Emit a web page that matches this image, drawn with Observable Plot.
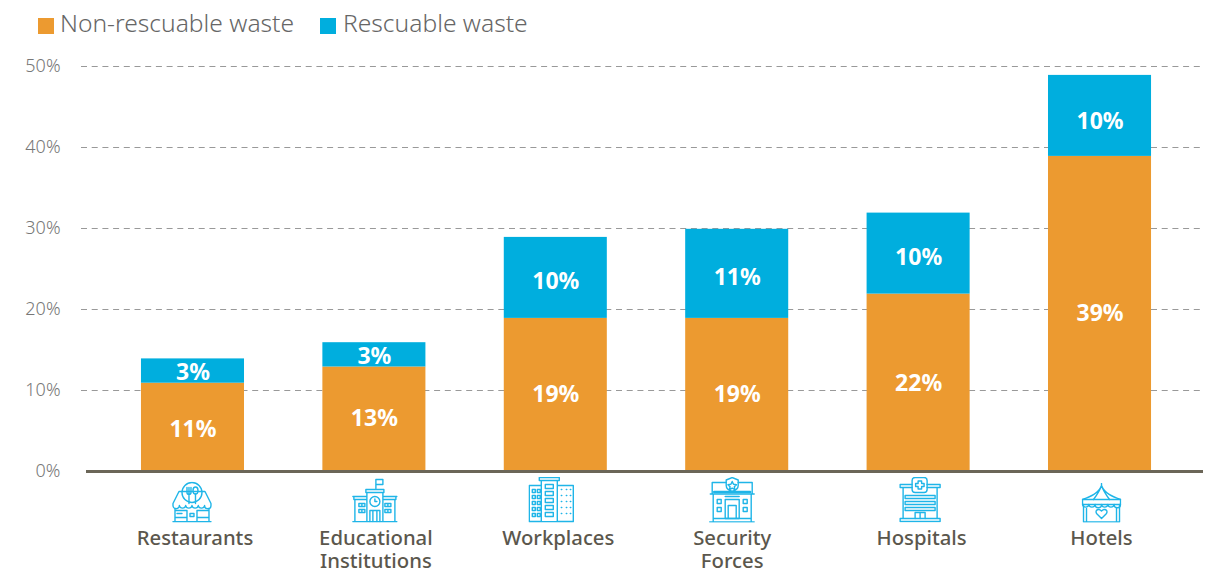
<!DOCTYPE html>
<html><head><meta charset="utf-8">
<script src="https://cdn.jsdelivr.net/npm/d3@7"></script>
<script src="https://cdn.jsdelivr.net/npm/@observablehq/plot@0.6"></script>
<style>
html,body{margin:0;padding:0;background:#fff;overflow:hidden}
#legend{height:42px;position:relative;font-family:"Noto Sans";font-weight:300;font-size:24.6px;color:#666}
#legend span{position:absolute;top:5px;line-height:36px;white-space:nowrap}
#legend i{position:absolute;top:18px;width:16px;height:16px}
</style></head><body>
<div id="legend"></div>
<div id="chart"></div>
<script>
const categories = ["Restaurants","Educational Institutions","Workplaces","Security Forces","Hospitals","Hotels"];
const nonRescuable = [11,13,19,19,22,39];
const rescuable = [3,3,10,11,10,10];
const seriesNames = ["Non-rescuable waste","Rescuable waste"];
const seriesColors = ["#ec9a30","#00aede"];
const yTicks = [0,10,20,30,40,50];
const labelLines = {"Educational Institutions":"Educational\nInstitutions","Security Forces":"Security\nForces"};
const labelShift = [2,1.5,2.5,-5,3,1.5];
const iconShift = [-1,0.5,-4.5,-5,1.5,1.5];
const iconW = [40,46,46,46,42,40];
const iconH = [41,45,46,46,46,40];
const nudgeLow = [3,0,0,0,1,0];
const nudgeHigh = [2.5,3,5,5,5,7];

const S = 'fill="none" stroke="#1fb5e8" stroke-width="1.4" stroke-linejoin="round" stroke-linecap="round"';
const wrap = (w,h,b)=>`<svg xmlns="http://www.w3.org/2000/svg" width="${w}" height="${h}" viewBox="0 0 ${w} ${h}"><g ${S}>${b}</g></svg>`;
const icons = [
 wrap(40,41,`<circle cx="20" cy="11" r="10"/><path d="M15 6v5q0 2 2 2t2-2V6M17 6v16"/><ellipse cx="23.500" cy="9" rx="2.500" ry="3.500"/><path d="M23.500 12.500V22"/><path d="M7 10H33L39 22V24a3.200 3.200 0 0 1-6.400 0 3.200 3.200 0 0 1-6.300 0 3.200 3.200 0 0 1-6.300 0 3.200 3.200 0 0 1-6.300 0 3.200 3.200 0 0 1-6.300 0 3.200 3.200 0 0 1-6.400 0V22Z"/><path d="M3 27V40M37 27V40M1 40.300H39M3 36H15M25 36H37M3 29H15M25 29H37M15 29V40M25 29V40"/><path d="M5 32h5M18 32h4v3h-4z"/>`),
 wrap(46,45,`<path d="M24 11V2H31V7H24"/><path d="M14 15H32V12H14ZM15 15V44M31 15V44M1 19H15M31 19H45M2 19V22H15M44 19V22H31M3 22V44M43 22V44M1 44.300H45"/><circle cx="23" cy="24" r="5"/><path d="M23 21.500V24H25"/><path d="M18 44V33H28V44M21 33V44M25 33V44M7 26h6v3H7zM7 32h6v3H7zM33 26h6v3h-6zM33 32h6v3h-6zM10 26v3M10 32v3M36 26v3M36 32v3"/>`),
 wrap(46,46,`<path d="M11 1H31V4H11ZM13 4V45M29 4V45M1 9H13V45H1ZM29 9H45V45H29ZM1 45.300H45"/><path d="M4 13h3v3H4zM9 13h3v3H9zM4 19h3v3H4zM9 19h3v3H9zM4 25h3v3H4zM9 25h3v3H9zM4 31h3v3H4zM9 31h3v3H9zM4 37h3v3H4zM9 37h3v3H9zM17 8h8v4h-8zM17 15h8v4h-8zM17 22h8v4h-8zM17 29h8v4h-8zM17 36h8v4h-8z"/><path d="M33 13h.5M38 13h.5M42 13h.5M33 19h.5M38 19h.5M42 19h.5M33 25h.5M38 25h.5M42 25h.5M33 31h.5M38 31h.5M42 31h.5M33 37h.5M38 37h.5M42 37h.5"/>`),
 wrap(46,46,`<path d="M17 6H3V17M29 6H43V17M1 17.500H45M4 18V45M42 18V45M0 45.500H45M4 42H42"/><path d="M23 1 29 3.500V9Q29 13 23 15 17 13 17 9V3.500Z"/><path d="M23 5l1.300 2.800 3 .4-2.200 2 .6 3-2.700-1.500-2.700 1.500.6-3-2.200-2 3-.4Z"/><path d="M5 15.500H41" stroke-width="2.500"/><path d="M16 20H30M16 23H30V42H16ZM19 29H27V42M19 29V42"/><path d="M8 23h4v4H8zM8 31h4v4H8zM34 23h4v4h-4zM34 31h4v4h-4z"/>`),
 wrap(42,46,`<rect x="13" y="1" width="15" height="15" rx="3"/><path d="M19 4.500h3.500V7H25v3h-2.500v2.500H19V10h-2.500V7H19Z"/><path d="M13 8H1V11H13M28 8H41V11H28M4 11V42M38 11V42M1 42H41V45H1Z"/><path d="M6 19H36V22H6ZM6 25H36V28H6ZM6 31H36V34H6Z"/><path d="M16 42V36H26V42M21 36V42"/>`),
 wrap(40,40,`<path d="M20 1V3C17 11 9 14 1 17M20 3C23 11 31 14 39 17M12 17C15 13 18 9 20 3 22 9 25 13 28 17"/><path d="M1 17H39V22H1Z"/><path d="M1 22a3.200 3.200 0 0 0 6.300 0 3.200 3.200 0 0 0 6.300 0 3.200 3.200 0 0 0 6.400 0 3.200 3.200 0 0 0 6.300 0 3.200 3.200 0 0 0 6.300 0 3.200 3.200 0 0 0 6.400 0"/><path d="M2 22V39.500M38 22V39.500M5 26V39.500M35 26V39.500M2 39.500H38"/><path d="M20 36l-5-5q-1.500-3 1.500-4 2-.2 3.500 1.500 1.500-1.700 3.500-1.500 3 1 1.500 4Z"/>`)
];
const iconUrl = s => "data:image/svg+xml;charset=utf-8," + encodeURIComponent(s);

const rows = seriesNames.flatMap((s,si)=>categories.map((c,i)=>({category:c,series:s,value:(si?rescuable:nonRescuable)[i]})));
const labelMarks = categories.flatMap((c,i)=>[
  [nonRescuable[i], nonRescuable[i]/2, nudgeLow[i]],
  [rescuable[i], nonRescuable[i]+rescuable[i]/2, nudgeHigh[i]]
].map(([v,mid,dy])=>Plot.text([{category:c,mid,v}],{x:"category",y:"mid",text:d=>d.v+"%",dy,fill:"#fff",fontSize:23,fontWeight:700,fontFamily:"Noto Sans"})));

const leg = document.getElementById("legend");
[[38,60],[320,343]].forEach(([a,b],i)=>{
  const q=document.createElement("i");q.style.left=a+"px";q.style.background=seriesColors[i];leg.append(q);
  const t=document.createElement("span");t.style.left=b+"px";t.textContent=seriesNames[i];leg.append(t);
});

const plot = Plot.plot({
  width:1219, height:527, marginLeft:81, marginRight:15, marginTop:0, marginBottom:98,
  style:{background:"transparent",overflow:"visible"},
  x:{domain:categories,range:[86,1206],paddingInner:0.432,paddingOuter:0.303,round:false,axis:null},
  y:{domain:[0,50],range:[429,24],axis:null},
  color:{domain:seriesNames,range:seriesColors},
  marks:[
    Plot.gridY(yTicks.slice(1),{stroke:"#999",strokeOpacity:1,strokeWidth:1.2,strokeDasharray:"6 4.7"}),
    Plot.axisY(yTicks,{anchor:"left",tickSize:0,tickPadding:21,tickFormat:d=>d+"%",label:null,fontSize:18,fontWeight:300,fill:"#777",fontFamily:"Noto Sans"}),
    Plot.barY(rows,{x:"category",y:"value",z:"series",fill:"series",order:seriesNames,dy:0.8}),
    ...labelMarks,
    Plot.ruleY([0],{stroke:"#6b6658",strokeWidth:3,insetLeft:5,insetRight:1}),
    ...categories.map((c,i)=>Plot.axisX([c],{anchor:"bottom",tickSize:0,tickPadding:57,dx:labelShift[i],label:null,lineHeight:1.15,
      tickFormat:d=>labelLines[d]||d,fontSize:20.3,fontWeight:500,fill:"#5b574d",fontFamily:"Noto Sans"})),
    ...categories.map((c,i)=>Plot.image([c],{x:d=>d,frameAnchor:"bottom",src:()=>iconUrl(icons[i]),width:iconW[i],height:iconH[i],dx:iconShift[i],dy:51-iconH[i]/2}))
  ]
});
document.getElementById("chart").append(plot);
</script></body></html>
